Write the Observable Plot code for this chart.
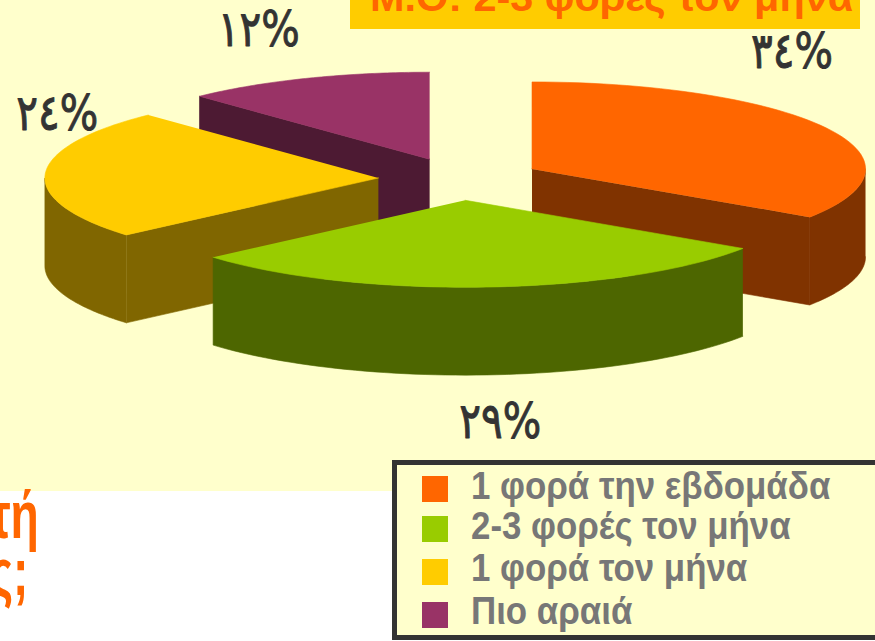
<!DOCTYPE html>
<html lang="el">
<head>
<meta charset="utf-8">
<script src="https://cdn.jsdelivr.net/npm/d3@7"></script>
<script src="https://cdn.jsdelivr.net/npm/@observablehq/plot@0.6"></script>
<style>
html,body{margin:0;padding:0;background:#fff;width:875px;height:641px;overflow:hidden;font-family:"Liberation Sans",Arial,sans-serif}
#wrap{position:relative;width:875px;height:641px;overflow:hidden}
#bg{position:absolute;left:0;top:0;width:875px;height:491px;background:#FFFFCC}
#chart{position:absolute;left:0;top:0}
#chart svg{background:transparent!important}
#banner{position:absolute;left:350px;top:-40px;width:510px;height:69px;background:#FFCC00;color:#FF6600;font-weight:bold;font-size:41.4px;line-height:1}
#banner span{position:absolute;left:20px;bottom:11px;white-space:nowrap}
.frag{position:absolute;color:#FF6600;font-weight:bold;font-size:66px;white-space:nowrap;line-height:56px;transform:scaleX(.7);transform-origin:100% 100%}
#legend{position:absolute;left:392px;top:460px;width:483px;height:180px;box-sizing:border-box;border:5px solid #333;border-right-width:0;background:#FFFFCC}
.sw{position:absolute;width:26px;height:26px;left:25px}
.lb{position:absolute;left:74px;color:#777;font-weight:bold;font-size:38px;line-height:1;white-space:nowrap;transform:scaleX(.917);transform-origin:0 100%}
</style>
</head>
<body>
<div id="wrap">
<div id="bg"></div>
<div id="chart"></div>
<div id="banner"><span>Μ.Ο: 2-3 φορές τον μήνα</span></div>
<div class="frag" style="right:836px;top:487px">τή</div>
<div class="frag" style="right:847px;top:544px">ς;</div>
<div id="legend"></div>
</div>
<script>
// Data
const categories = ["1 φορά την εβδομάδα", "2-3 φορές τον μήνα", "1 φορά τον μήνα", "Πιο αραιά"];
const values = [34, 29, 24, 12];
const valueLabels = ["٣٤%", "٢٩%", "٢٤%", "١٢%"];
const topColors = ["#FF6600", "#99CC00", "#FFCC00", "#993366"];
const wallColors = ["#803300", "#4D6600", "#806600", "#4D1A33"];

// Pie projection (unit radius in data space)
const explode = 0.245;
const thickness = 1.01;
const labelShift = [[-34, -76], [14, 135], [12, -60], [-47, -48]];

const total = d3.sum(values);
let acc = 0;
const slices = values.map((v, i) => {
  const a0 = acc / total * 2 * Math.PI;
  acc += v;
  const a1 = acc / total * 2 * Math.PI;
  const mid = (a0 + a1) / 2;
  return {i, a0, a1, mid, cx: explode * Math.sin(mid), cy: explode * Math.cos(mid)};
});
const rim = (s, a, drop = 0) => ({x: s.cx + Math.sin(a), y: s.cy + Math.cos(a) - drop});
const arc = (s, a0, a1, drop = 0) => d3.range(0, 61).map(k => rim(s, a0 + (a1 - a0) * k / 60, drop));
const face = (pts, color) => Plot.line(pts, {x: "x", y: "y", fill: color, stroke: color, strokeWidth: 0.6, curve: "linear"});
const apex = (s, drop = 0) => ({x: s.cx, y: s.cy - drop});

// A wall that runs along the rim between two angles
const curvedWall = (s, a0, a1) => [...arc(s, a0, a1), ...arc(s, a0, a1, thickness).reverse()];
const radialWall = (s, a) => [apex(s), rim(s, a), rim(s, a, thickness), apex(s, thickness)];
const topFace = s => [apex(s), ...arc(s, s.a0, s.a1)];

const [orange, green, yellow, purple] = slices;
const marks = [
  face(radialWall(purple, purple.a0), wallColors[3]),
  face(topFace(purple), topColors[3]),
  face(radialWall(orange, orange.a1), wallColors[0]),
  face(curvedWall(orange, Math.PI / 2, orange.a1), wallColors[0]),
  face(topFace(orange), topColors[0]),
  face(radialWall(yellow, yellow.a0), wallColors[2]),
  face(curvedWall(yellow, yellow.a0, 3 * Math.PI / 2), wallColors[2]),
  face(topFace(yellow), topColors[2]),
  face(curvedWall(green, green.a0, green.a1), wallColors[1]),
  face(topFace(green), topColors[1]),
  ...slices.map(s => Plot.text([rim(s, s.mid)], {
    x: "x", y: "y", text: () => valueLabels[s.i],
    dx: labelShift[s.i][0], dy: labelShift[s.i][1],
    fontFamily: "DejaVu Sans", fontWeight: "normal", fontSize: 50,
    fill: "#333333", stroke: "#333333", strokeWidth: 1, className: "pct"
  }))
];

const rx = 333.5, ry = 87, px = 459.5, py = 178.5;
const chart = Plot.plot({
  width: 875, height: 641,
  margin: 0,
  style: {background: "transparent", overflow: "visible"},
  x: {domain: [-px / rx, (875 - px) / rx], range: [0, 875], axis: null},
  y: {domain: [py / ry, (py - 641) / ry], range: [0, 641], axis: null},
  marks
});
// Narrow the percentage labels in place, keeping their anchor
d3.select(chart).selectAll(".pct text").each(function () {
  const t = this.getAttribute("transform") || "";
  this.setAttribute("transform", t + " scale(.81,1)");
});
document.getElementById("chart").append(chart);

// Legend
const legend = document.getElementById("legend");
const swatchTops = [11, 51, 94, 137];
const labelTops = [2, 42, 84, 127];
categories.forEach((c, i) => {
  const sw = document.createElement("div");
  sw.className = "sw";
  sw.style.top = swatchTops[i] + "px";
  sw.style.background = topColors[i];
  legend.append(sw);
  const lb = document.createElement("div");
  lb.className = "lb";
  lb.textContent = c;
  lb.style.top = labelTops[i] + "px";
  legend.append(lb);
});
</script>
</body>
</html>
